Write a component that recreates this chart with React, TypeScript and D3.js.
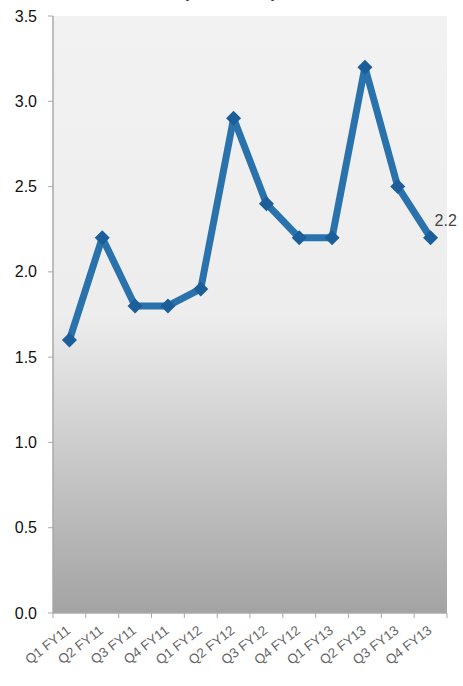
import React from "react";
import * as d3 from "d3";

const categories = [
  "Q1 FY11", "Q2 FY11", "Q3 FY11", "Q4 FY11",
  "Q1 FY12", "Q2 FY12", "Q3 FY12", "Q4 FY12",
  "Q1 FY13", "Q2 FY13", "Q3 FY13", "Q4 FY13",
];
const values = [1.6, 2.2, 1.8, 1.8, 1.9, 2.9, 2.4, 2.2, 2.2, 3.2, 2.5, 2.2];
const yTicks = [0, 0.5, 1.0, 1.5, 2.0, 2.5, 3.0, 3.5];
const title = "(in Percent)";

export default function App() {
  const W = 463, H = 686;
  const left = 53, right = 447, top = 16, bottom = 613;
  const x = d3.scaleBand<string>().domain(categories).range([left, right]);
  const y = d3.scaleLinear().domain([0, 3.5]).range([bottom, top]);
  const cx = (c: string) => (x(c) ?? 0) + x.bandwidth() / 2;
  const line = d3.line<number>().x((_, i) => cx(categories[i])).y((d) => y(d));
  const font = "'Liberation Sans', Arial, sans-serif";
  const last = values.length - 1;
  return (
    <svg width={W} height={H} style={{ position: "absolute", left: 0, top: 0 }}>
      <defs>
        <linearGradient id="bg" x1="0" y1="0" x2="0" y2="1">
          <stop offset="0" stopColor="#f2f2f2" />
          <stop offset="0.5" stopColor="#ededed" />
          <stop offset="1" stopColor="#a3a3a3" />
        </linearGradient>
      </defs>
      <rect x={0} y={0} width={W} height={H} fill="#fff" />
      <text x={230} y={-2} textAnchor="middle" fontFamily={font} fontWeight="bold" fontSize={17} fill="#333">{title}</text>
      <rect x={left} y={top} width={right - left} height={bottom - top} fill="url(#bg)" />
      <line x1={left} x2={left} y1={top} y2={bottom} stroke="#aaa" strokeWidth={1.5} />
      {yTicks.map((t) => (
        <g key={t}>
          <line x1={left - 5} x2={left} y1={y(t)} y2={y(t)} stroke="#aaa" />
          <text x={37} y={y(t)} dy="0.35em" textAnchor="end" fontFamily={font} fontSize={16} fill="#111">
            {t.toFixed(1)}
          </text>
        </g>
      ))}
      <line x1={left} x2={right} y1={bottom} y2={bottom} stroke="#aaa" strokeWidth={1.5} />
      {[...categories.map((c) => x(c) ?? 0), right].map((px, i) => (
        <line key={i} x1={px} x2={px} y1={bottom} y2={bottom + 5} stroke="#aaa" />
      ))}
      {categories.map((c) => (
        <text
          key={c}
          transform={`translate(${cx(c) + 2},${bottom + 19}) rotate(-38)`}
          textAnchor="end"
          fontFamily={font}
          fontSize={13.5}
          fill="#666"
        >
          {c}
        </text>
      ))}
      <path d={line(values) ?? ""} fill="none" stroke="#2a72ac" strokeWidth={7} strokeLinejoin="round" strokeLinecap="round" />
      {values.map((v, i) => {
        const px = cx(categories[i]), py = y(v);
        return (
          <path key={i} d={`M${px},${py - 7.5}L${px + 7.5},${py}L${px},${py + 7.5}L${px - 7.5},${py}Z`} fill="#1b5e9a" />
        );
      })}
      <text x={cx(categories[last]) + 4} y={y(values[last]) - 12} fontFamily={font} fontSize={16} fill="#444">
        {values[last].toFixed(1)}
      </text>
    </svg>
  );
}
